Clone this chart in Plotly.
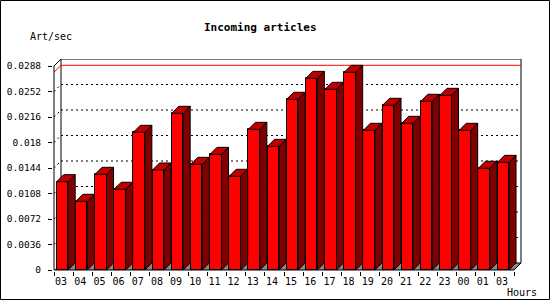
import plotly.graph_objects as go

# ---- data ----
hours = ["03", "04", "05", "06", "07", "08", "09", "10", "11", "12", "13", "14",
         "15", "16", "17", "18", "19", "20", "21", "22", "23", "00", "01", "03"]
art_per_sec = [0.01247, 0.0097, 0.01351, 0.0114, 0.01944, 0.01412, 0.02212, 0.01492,
               0.01633, 0.01323, 0.01986, 0.01746, 0.0241, 0.02706, 0.02551, 0.02791,
               0.01972, 0.02325, 0.02071, 0.02382, 0.02466, 0.01972, 0.01436, 0.0152]
y_ticks = [0, 0.0036, 0.0072, 0.0108, 0.0144, 0.018, 0.0216, 0.0252, 0.0288]
y_ticktext = ["0", "0.0036", "0.0072", "0.0108", "0.0144", "0.018", "0.0216", "0.0252", "0.0288"]

# ---- geometry (pixels -> data units) ----
W, H = 550, 300
n = len(hours)
px_x = 460 / n                 # pixels per category
px_y = 204 / y_ticks[-1]       # pixels per value unit
dx = 7 / px_x                  # 3D depth in x units
dy = 7 / px_y                  # 3D depth in y units
ymax = y_ticks[-1]

L, T, R, B = 53, 59, 28, 29
PW = W - L - R
PH = H - T - B
x0 = -0.5 - 1 / px_x
x1 = x0 + PW / px_x
y0 = -1 / px_y
y1 = y0 + PH / px_y

def pxp(px):
    return (px - L) / PW

def pyp(py):
    return (T + PH - py) / PH

xs = list(range(n))
bar_off = -0.36
bar_w = 0.6

FONT = "DejaVu Sans Mono"
fig = go.Figure()

# front faces
fig.add_trace(go.Bar(x=xs, y=art_per_sec, width=bar_w, offset=bar_off,
                     marker=dict(color="#FF0000", line=dict(color="black", width=1)),
                     hoverinfo="skip", showlegend=False))

# caps and sides
cap_x, cap_y, side_x, side_y = [], [], [], []
for i, v in zip(xs, art_per_sec):
    xl = i + bar_off
    xr = xl + bar_w
    cap_x += [xl, xr, xr + dx, xl + dx, xl, None]
    cap_y += [v, v, v + dy, v + dy, v, None]
    side_x += [xr, xr + dx, xr + dx, xr, xr, None]
    side_y += [0, dy, v + dy, v, 0, None]
fig.add_trace(go.Scatter(x=side_x, y=side_y, mode="lines", fill="toself",
                         fillcolor="#800000", line=dict(color="black", width=1),
                         hoverinfo="skip", showlegend=False))
fig.add_trace(go.Scatter(x=cap_x, y=cap_y, mode="lines", fill="toself",
                         fillcolor="#C00000", line=dict(color="black", width=1),
                         hoverinfo="skip", showlegend=False))

# front axes and corner diagonals
ax_x = [-0.5, -0.5, None, -0.5, n - 0.5, None, -0.5, -0.5 + dx, None, n - 0.5, n - 0.5 + dx]
ax_y = [0, ymax, None, 0, 0, None, ymax, ymax + dy, None, 0, dy]
fig.add_trace(go.Scatter(x=ax_x, y=ax_y, mode="lines", line=dict(color="black", width=1),
                         hoverinfo="skip", showlegend=False))

shapes = []
# floor
shapes.append(dict(type="path", xref="x", yref="y", layer="below",
                   path=f"M {-0.5},0 L {n-0.5},0 L {n-0.5+dx},{dy} L {-0.5+dx},{dy} Z",
                   fillcolor="#888888", line=dict(width=0)))
# back plane
shapes.append(dict(type="rect", xref="x", yref="y", layer="below",
                   x0=-0.5 + dx, x1=n - 0.5 + dx, y0=dy, y1=ymax + dy,
                   fillcolor="white", line=dict(color="black", width=1)))
# dotted grid lines (back wall and left wall)
for t in y_ticks[1:-1]:
    shapes.append(dict(type="line", xref="x", yref="y", layer="below",
                       x0=-0.5 + dx, x1=n - 0.5 + dx, y0=t + dy, y1=t + dy,
                       line=dict(color="black", width=1, dash="2px,3px")))
    shapes.append(dict(type="line", xref="x", yref="y", layer="below",
                       x0=-0.5, x1=-0.5 + dx, y0=t, y1=t + dy,
                       line=dict(color="black", width=1, dash="2px,3px")))
# red max line
vmax = max(art_per_sec)
shapes.append(dict(type="line", xref="x", yref="y", layer="below",
                   x0=-0.5 + dx, x1=n - 0.5 + dx, y0=vmax + dy, y1=vmax + dy,
                   line=dict(color="#FF0000", width=1)))
shapes.append(dict(type="line", xref="x", yref="y", layer="below",
                   x0=-0.5, x1=-0.5 + dx, y0=vmax, y1=vmax + dy,
                   line=dict(color="#FF0000", width=1)))
# image border
shapes.append(dict(type="rect", xref="paper", yref="paper",
                   x0=pxp(0.5), x1=pxp(W - 0.5), y0=pyp(H - 0.5), y1=pyp(0.5),
                   line=dict(color="black", width=1)))

annotations = [
    dict(text="<b>Incoming articles</b>", x=pxp(260), y=pyp(27), xref="paper", yref="paper",
         showarrow=False, xanchor="center", yanchor="middle",
         font=dict(family=FONT, size=11, color="black")),
    dict(text="Art/sec", x=pxp(28), y=pyp(37), xref="paper", yref="paper",
         showarrow=False, xanchor="left", yanchor="middle",
         font=dict(family=FONT, size=10, color="black")),
    dict(text="Hours", x=pxp(505), y=pyp(292), xref="paper", yref="paper",
         showarrow=False, xanchor="left", yanchor="middle",
         font=dict(family=FONT, size=10, color="black")),
]

fig.update_layout(
    template="none",
    width=W, height=H,
    margin=dict(l=L, r=R, t=T, b=B, pad=0, autoexpand=False),
    paper_bgcolor="white", plot_bgcolor="white",
    showlegend=False, bargap=0,
    shapes=shapes, annotations=annotations,
    xaxis=dict(range=[x0, x1], showgrid=False, zeroline=False, showline=False,
               automargin=False,
               tickmode="array", tickvals=[i - 0.13 for i in xs], ticktext=hours,
               ticks="", tickfont=dict(family=FONT, size=10, color="black"),
               ticklabelstandoff=3,
               minor=dict(tickmode="array", tickvals=[k - 0.5 for k in range(n + 1)],
                          ticks="outside", ticklen=4, tickcolor="black", tickwidth=1,
                          showgrid=False),
               fixedrange=True),
    yaxis=dict(range=[y0, y1], showgrid=False, zeroline=False, showline=False,
               automargin=False,
               tickmode="array", tickvals=y_ticks, ticktext=y_ticktext,
               ticks="outside", ticklen=4, tickcolor="black", tickwidth=1,
               tickfont=dict(family=FONT, size=9.5, color="black"),
               ticklabelstandoff=5, fixedrange=True),
)

fig.write_html("out.html")
